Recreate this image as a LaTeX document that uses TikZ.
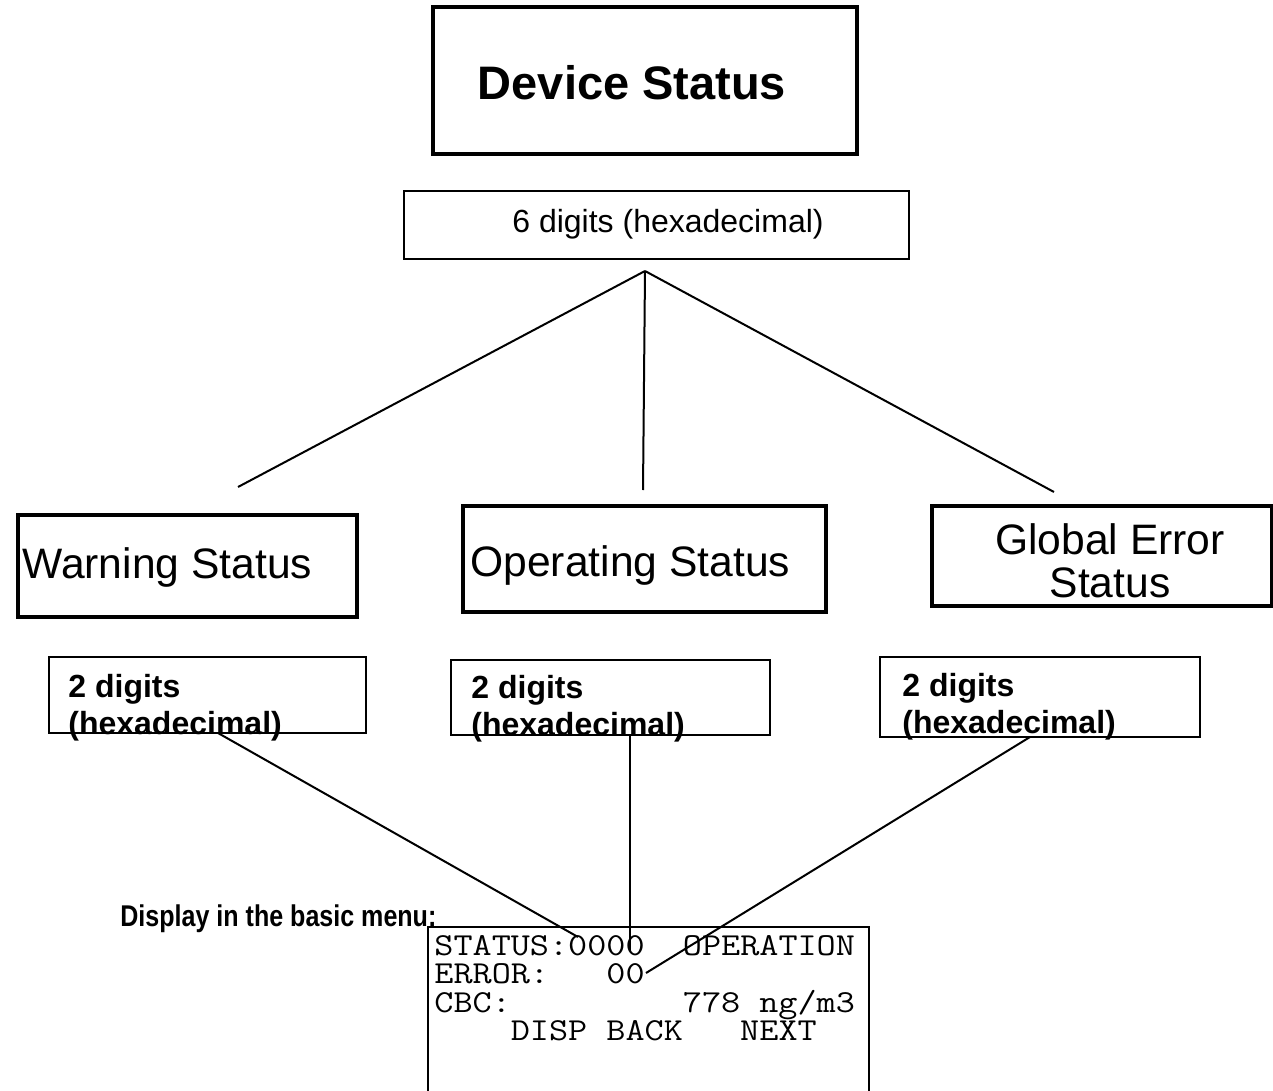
\documentclass[tikz,border=0pt]{standalone}
\usepackage{fontspec}
\setmainfont{Liberation Sans}
\begin{document}
\begin{tikzpicture}[x=0.5pt,y=-0.5pt,
    bigbox/.style={draw, line width=2pt, inner sep=0pt},
    thinbox/.style={draw, line width=0.75pt, inner sep=0pt},
    link/.style={line width=1pt},
    label/.style={inner sep=0pt, align=left}]
\useasboundingbox (0,0) rectangle (1273,1091);
% boxes
\node[bigbox, minimum width=212pt, minimum height=73.5pt] (dev) at (645,80.5) {};
\node[thinbox, minimum width=252.5pt, minimum height=34pt] (hex6) at (656.5,225) {};
\node[bigbox, minimum width=169.5pt, minimum height=51pt] (warn) at (187.5,566) {};
\node[bigbox, minimum width=181.5pt, minimum height=53pt] (oper) at (644.5,559) {};
\node[bigbox, minimum width=170pt, minimum height=50pt] (glob) at (1102,556) {};
\node[thinbox, minimum width=158.5pt, minimum height=38pt] (hexW) at (207.5,695) {};
\node[thinbox, minimum width=159.5pt, minimum height=37.5pt] (hexO) at (610.5,697.5) {};
\node[thinbox, minimum width=160pt, minimum height=40pt] (hexG) at (1040,697) {};
\node[thinbox, line width=1pt, minimum width=220.5pt, minimum height=96.5pt] (lcd) at (648.5,1023.5) {};
% texts
\node[label, font=\fontsize{23.5}{28}\selectfont\bfseries] (devText) at (632,83) {Device Status};
\node[label, font=\fontsize{16}{19}\selectfont] (hex6Text) at (668,224) {6 digits (hexadecimal)};
\node[label, anchor=west, font=\fontsize{21.3}{25}\selectfont] (warnText) at (22,567) {Warning Status};
\node[label, anchor=west, font=\fontsize{21.3}{25}\selectfont] (operText) at (470,565) {Operating Status};
\node[label, align=center, font=\fontsize{21.3}{21.5}\selectfont] (globText) at (1110,561) {Global Error\\Status};
% base of a two-line node is its last line
\foreach \n/\x/\y in {W/68/734, O/471/735, G/902/733} {
    \node[label, anchor=base west, font=\fontsize{16}{18.5}\selectfont\bfseries] (hex\n Text) at (\x,\y) {2 digits\\(hexadecimal)};
}
\node[label, anchor=west, font=\fontsize{15}{18}\selectfont\bfseries] (dispText) at (120,919) {\scalebox{0.835}[1]{Display in the basic menu:}};
% display lines
\foreach \i/\row in {0/{STATUS:0000~~OPERATION}, 1/{ERROR:~~~00}, 2/{CBC:~~~~~~~~~778~ng/m3}, 3/{~~~~DISP~BACK~~~NEXT}} {
    \node[label, anchor=base west, font=\fontsize{16}{19}\selectfont\ttfamily] (lcdRow\i) at (434,955+28.5*\i)
        {\scalebox{1.16}[1]{\row}};
}
% connectors
\coordinate (fork) at (645,271);
\coordinate (warnIn) at (238,487);
\coordinate (operIn) at (643,490);
\coordinate (globIn) at (1054,492);
\foreach \t in {warnIn, operIn, globIn} {
    \draw[link] (fork) -- (\t);
}
\coordinate (warnOut) at (218,733);
\coordinate (operOut) at (630,735);
\coordinate (globOut) at (1030,737);
\coordinate (warnDigits) at (578,937);
\coordinate (operDigits) at (630,950);
\coordinate (globDigits) at (646,973);
\foreach \s/\t in {warnOut/warnDigits, operOut/operDigits, globOut/globDigits} {
    \draw[link] (\s) -- (\t);
}
\end{tikzpicture}
\end{document}
